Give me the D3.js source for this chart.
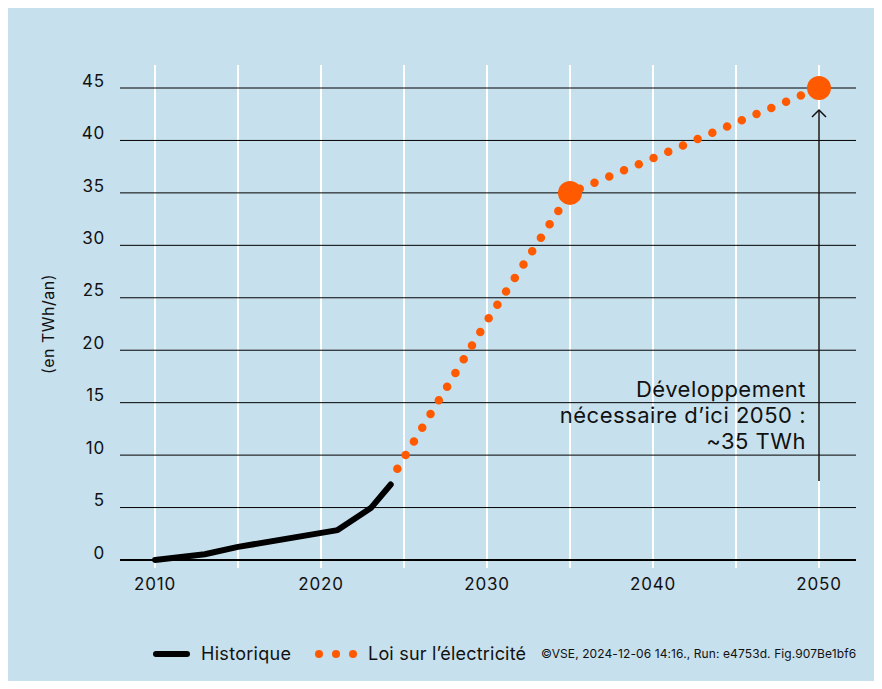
<!DOCTYPE html>
<html>
<head>
<meta charset="utf-8">
<script src="https://cdn.jsdelivr.net/npm/d3@7"></script>
<style>
  html, body { margin: 0; padding: 0; background: #fff; }
  svg { display: block; font-family: Inter, "DejaVu Sans", sans-serif; }
</style>
</head>
<body>
<svg id="chart" width="882" height="689"></svg>
<script>
// data
const histYears = [2010, 2013, 2015, 2021, 2023, 2024.2]
const histValues = [0, 0.55, 1.25, 2.85, 4.95, 7.2]
const lawYears = [2024.6, 2030, 2035, 2040, 2045, 2050]
const lawValues = [8.7, 22.8, 35, 38.3, 41.7, 45]
const milestoneYears = [2035, 2050]
const milestoneValues = [35, 45]
const xTicks = [2010, 2020, 2030, 2040, 2050]
const xGrid = [2010, 2015, 2020, 2025, 2030, 2035, 2040, 2045, 2050]
const yTicks = [0, 5, 10, 15, 20, 25, 30, 35, 40, 45]
const noteLines = ['Développement', 'nécessaire d\u2019ici 2050 :', '~35 TWh']

const ORANGE = '#ff5a00'
const BG = '#c7e0ed'

const svg = d3.select('#chart')
svg.append('rect').attr('x', 8).attr('y', 8).attr('width', 866).attr('height', 673).attr('fill', BG)

const x = d3.scaleLinear().domain([2010, 2050]).range([155, 819])
const y = d3.scaleLinear().domain([0, 45]).range([560, 88])
const xLeft = 120, xRight = 856

// vertical white grid
svg.append('g').selectAll('line').data(xGrid).join('line')
    .attr('x1', d => x(d)).attr('x2', d => x(d))
    .attr('y1', 65).attr('y2', 568)
    .attr('stroke', '#fff').attr('stroke-width', 2)

// horizontal black grid
svg.append('g').selectAll('line').data(yTicks).join('line')
    .attr('x1', xLeft).attr('x2', xRight)
    .attr('y1', d => y(d)).attr('y2', d => y(d))
    .attr('stroke', '#000').attr('stroke-width', d => d === 0 ? 2 : 1)

// y tick labels
svg.append('g').selectAll('text').data(yTicks).join('text')
    .attr('x', 105).attr('y', d => y(d) - 6)
    .attr('text-anchor', 'end').attr('dominant-baseline', 'middle')
    .attr('font-size', 17).attr('letter-spacing', 0.8).attr('fill', '#111')
    .text(d => d)

// x tick labels
svg.append('g').selectAll('text').data(xTicks).join('text')
    .attr('x', d => x(d)).attr('y', 590)
    .attr('text-anchor', 'middle')
    .attr('font-size', 17).attr('letter-spacing', 0.8).attr('fill', '#111')
    .text(d => d)

// y title
svg.append('text')
    .attr('transform', 'translate(54,324) rotate(-90)')
    .attr('text-anchor', 'middle').attr('font-size', 16).attr('letter-spacing', 0.5).attr('fill', '#111')
    .text('(en TWh/an)')

// annotation arrow
svg.append('line').attr('x1', x(2050)).attr('x2', x(2050)).attr('y1', 481).attr('y2', 111)
    .attr('stroke', '#111').attr('stroke-width', 1.5)
svg.append('path').attr('d', `M${x(2050) - 7},${117} L${x(2050)},${110} L${x(2050) + 7},${117}`)
    .attr('fill', 'none').attr('stroke', '#111').attr('stroke-width', 1.5)

svg.append('g').selectAll('text').data(noteLines).join('text')
    .attr('x', 806).attr('y', (d, i) => 397 + i * 26)
    .attr('text-anchor', 'end').attr('font-size', 22).attr('letter-spacing', 0.5).attr('fill', '#111')
    .text(d => d)

// lines
const line = d3.line().x(d => x(d[0])).y(d => y(d[1]))

svg.append('path').datum(d3.zip(histYears, histValues))
    .attr('d', line).attr('fill', 'none').attr('stroke', '#000')
    .attr('stroke-width', 6).attr('stroke-linecap', 'round').attr('stroke-linejoin', 'round')

svg.append('path').datum(d3.zip(lawYears, lawValues))
    .attr('d', line).attr('fill', 'none').attr('stroke', ORANGE)
    .attr('stroke-width', 8.5).attr('stroke-linecap', 'round').attr('stroke-dasharray', '0,16')

svg.append('g').selectAll('circle').data(d3.zip(milestoneYears, milestoneValues)).join('circle')
    .attr('cx', d => x(d[0])).attr('cy', d => y(d[1])).attr('r', 12).attr('fill', ORANGE)

// legend
const lg = svg.append('g')
lg.append('line').attr('x1', 156).attr('x2', 187).attr('y1', 654).attr('y2', 654)
    .attr('stroke', '#000').attr('stroke-width', 6).attr('stroke-linecap', 'round')
lg.append('text').attr('x', 201).attr('y', 660).attr('font-size', 18).attr('letter-spacing', 0.3).attr('fill', '#111').text('Historique')
lg.selectAll('circle').data([319, 336, 353]).join('circle')
    .attr('cx', d => d).attr('cy', 654).attr('r', 4).attr('fill', ORANGE)
lg.append('text').attr('x', 368).attr('y', 660).attr('font-size', 18).attr('letter-spacing', 0.2).attr('fill', '#111').text('Loi sur l\u2019électricité')
lg.append('text').attr('x', 541).attr('y', 658).attr('font-size', 12).attr('letter-spacing', 0.1).attr('fill', '#111')
    .text('©VSE, 2024-12-06 14:16., Run: e4753d. Fig.907Be1bf6')
</script>
</body>
</html>
